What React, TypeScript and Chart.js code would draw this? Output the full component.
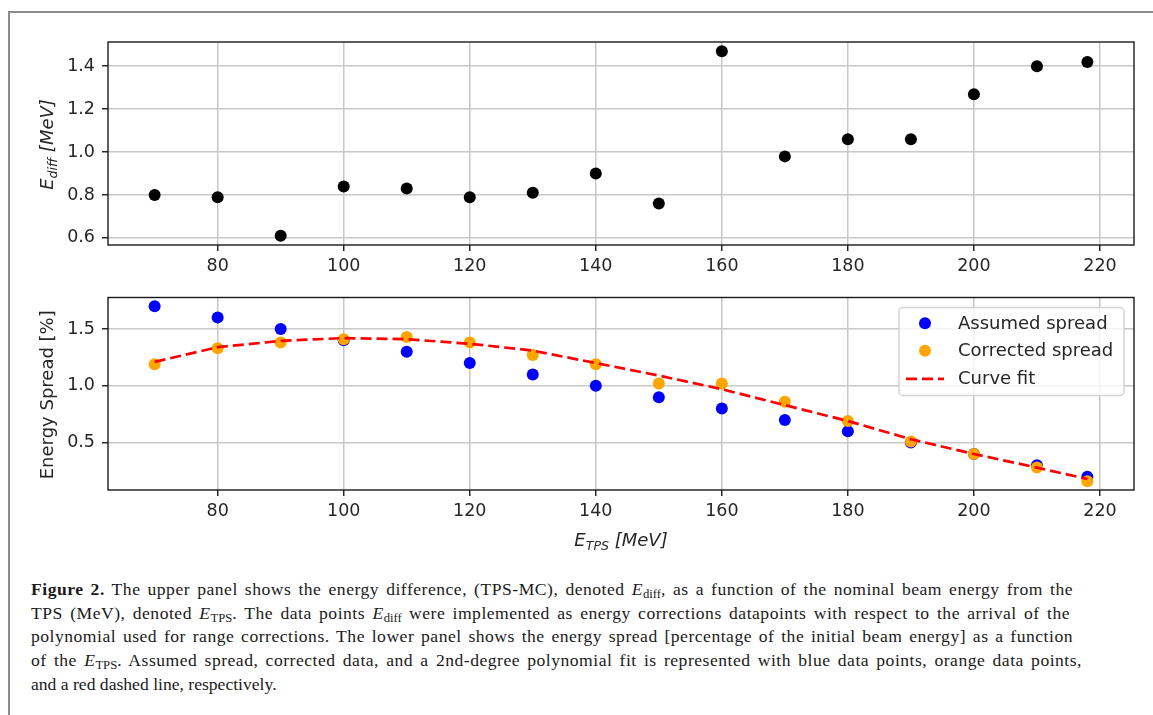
import { useEffect, useRef } from "react";
import { Chart, registerables } from "chart.js";

Chart.register(...registerables);

// Nominal beam energies from the TPS (MeV)
const beamEnergy = [70, 80, 90, 100, 110, 120, 130, 140, 150, 160, 170, 180, 190, 200, 210, 218];
// Energy difference TPS - MC (MeV)
const energyDiff = [0.80, 0.79, 0.61, 0.84, 0.83, 0.79, 0.81, 0.90, 0.76, 1.47, 0.98, 1.06, 1.06, 1.27, 1.40, 1.42];
// Energy spread (% of initial beam energy)
const assumedSpread = [1.7, 1.6, 1.5, 1.4, 1.3, 1.2, 1.1, 1.0, 0.9, 0.8, 0.7, 0.6, 0.5, 0.4, 0.3, 0.2];
const correctedSpread = [1.19, 1.33, 1.38, 1.41, 1.43, 1.38, 1.27, 1.19, 1.02, 1.02, 0.86, 0.69, 0.51, 0.40, 0.28, 0.16];
const curveFit = [1.21, 1.34, 1.395, 1.42, 1.41, 1.37, 1.31, 1.20, 1.09, 0.97, 0.83, 0.69, 0.53, 0.40, 0.28, 0.18];

const energyTicks = [80, 100, 120, 140, 160, 180, 200, 220];
const diffTicks = [0.6, 0.8, 1.0, 1.2, 1.4];
const spreadTicks = [0.5, 1.0, 1.5];
const seriesLabels = ["Assumed spread", "Corrected spread", "Curve fit"];

const FONT = '"DejaVu Sans", sans-serif';
const TEXT = "#262626";
const GRID = "#c8c8c8";
const SPINE = "#1a1a1a";
const BLUE = "#0000ff";
const ORANGE = "#ffa500";
const RED = "#ff0000";
const FIT_DASH = [11, 5];

// matplotlib-style auto limits: data range plus 5% on each side
function paddedRange(values: number[], frac = 0.05) {
  const lo = Math.min(...values);
  const hi = Math.max(...values);
  const pad = (hi - lo) * frac;
  return { min: lo - pad, max: hi + pad };
}

type Seg = { text: string; sub?: boolean; italic?: boolean };

// Draws a mathtext-like label (italic symbol with subscript), centred on (cx, cy)
function drawMathLabel(ctx: CanvasRenderingContext2D, segs: Seg[], cx: number, cy: number, size: number, vertical: boolean) {
  ctx.save();
  ctx.translate(cx, cy);
  if (vertical) ctx.rotate(-Math.PI / 2);
  ctx.fillStyle = TEXT;
  ctx.textBaseline = "alphabetic";
  ctx.textAlign = "left";
  const fontOf = (s: Seg) => `${s.italic ? "italic " : ""}${s.sub ? size * 0.7 : size}px ${FONT}`;
  let total = 0;
  const widths = segs.map((s) => {
    ctx.font = fontOf(s);
    const w = ctx.measureText(s.text).width;
    total += w;
    return w;
  });
  let x = -total / 2;
  const base = size * 0.36;
  segs.forEach((s, i) => {
    ctx.font = fontOf(s);
    ctx.fillText(s.text, x, s.sub ? base + size * 0.2 : base);
    x += widths[i];
  });
  ctx.restore();
}

function frameBox(ctx: CanvasRenderingContext2D, chart: Chart) {
  const a = chart.chartArea;
  ctx.save();
  ctx.strokeStyle = SPINE;
  ctx.lineWidth = 1.4;
  ctx.strokeRect(a.left, a.top, a.right - a.left, a.bottom - a.top);
  ctx.restore();
}

function xScale(min: number, max: number, height: number) {
  return {
    type: "linear" as const,
    position: "bottom" as const,
    min,
    max,
    afterBuildTicks: (s: any) => {
      s.ticks = energyTicks.map((v) => ({ value: v }));
    },
    afterFit: (s: any) => {
      s.height = height;
    },
    ticks: {
      font: { family: FONT, size: 17.5 },
      color: TEXT,
      padding: 5,
      maxRotation: 0,
      autoSkip: false,
      callback: (v: any) => String(v),
    },
    grid: { color: GRID, lineWidth: 1.5, tickColor: SPINE, tickWidth: 1.4, tickLength: 6 },
    border: { display: false },
  };
}

function yScale(min: number, max: number, ticksList: number[]) {
  return {
    type: "linear" as const,
    position: "left" as const,
    min,
    max,
    afterBuildTicks: (s: any) => {
      s.ticks = ticksList.map((v) => ({ value: v }));
    },
    afterFit: (s: any) => {
      s.width = 108;
    },
    ticks: {
      font: { family: FONT, size: 17.5 },
      color: TEXT,
      padding: 7,
      autoSkip: false,
      callback: (v: any) => Number(v).toFixed(1),
    },
    grid: { color: GRID, lineWidth: 1.5, tickColor: SPINE, tickWidth: 1.4, tickLength: 6 },
    border: { display: false },
  };
}

const pointsOf = (ys: number[]) => beamEnergy.map((x, i) => ({ x, y: ys[i] }));

export default function App() {
  const topRef = useRef<HTMLCanvasElement>(null);
  const bottomRef = useRef<HTMLCanvasElement>(null);

  useEffect(() => {
    const xr = paddedRange(beamEnergy);
    const diffRange = paddedRange(energyDiff);
    const spreadRange = paddedRange([...assumedSpread, ...correctedSpread, ...curveFit]);

    const topDecor = {
      id: "topDecor",
      afterDraw(chart: Chart) {
        const ctx = chart.ctx;
        frameBox(ctx, chart);
        const a = chart.chartArea;
        drawMathLabel(
          ctx,
          [
            { text: "E", italic: true },
            { text: "diff", italic: true, sub: true },
            { text: " [MeV]", italic: true },
          ],
          46.5,
          (a.top + a.bottom) / 2 + 1,
          18,
          true
        );
      },
    };

    const bottomDecor = {
      id: "bottomDecor",
      afterDraw(chart: Chart) {
        const ctx = chart.ctx;
        frameBox(ctx, chart);
        const a = chart.chartArea;
        drawMathLabel(ctx, [{ text: "Energy Spread [%]" }], 46.5, (a.top + a.bottom) / 2 + 1, 18, true);
        drawMathLabel(
          ctx,
          [
            { text: "E", italic: true },
            { text: "TPS", italic: true, sub: true },
            { text: " [MeV]", italic: true },
          ],
          (a.left + a.right) / 2,
          260,
          18,
          false
        );

        // legend in the upper right corner of the plot area
        const bw = 225;
        const bh = 88;
        const bx = a.right - 10 - bw;
        const by = a.top + 10;
        ctx.save();
        ctx.beginPath();
        ctx.roundRect(bx, by, bw, bh, 4);
        ctx.fillStyle = "rgba(255,255,255,0.8)";
        ctx.fill();
        ctx.strokeStyle = "#d4d4d4";
        ctx.lineWidth = 1.5;
        ctx.stroke();
        const rows = [by + 15.7, by + 43.3, by + 71.3];
        const mx = bx + 26;
        ctx.fillStyle = BLUE;
        ctx.beginPath();
        ctx.arc(mx, rows[0], 6, 0, Math.PI * 2);
        ctx.fill();
        ctx.fillStyle = ORANGE;
        ctx.beginPath();
        ctx.arc(mx, rows[1], 6, 0, Math.PI * 2);
        ctx.fill();
        ctx.strokeStyle = RED;
        ctx.lineWidth = 2.7;
        ctx.setLineDash(FIT_DASH);
        ctx.beginPath();
        ctx.moveTo(bx + 7, rows[2]);
        ctx.lineTo(bx + 45, rows[2]);
        ctx.stroke();
        ctx.setLineDash([]);
        ctx.fillStyle = TEXT;
        ctx.font = `18px ${FONT}`;
        ctx.textBaseline = "middle";
        ctx.textAlign = "left";
        seriesLabels.forEach((t, i) => ctx.fillText(t, bx + 59, rows[i] + 1));
        ctx.restore();
      },
    };

    const common = {
      responsive: false,
      animation: false as const,
      devicePixelRatio: 1,
      events: [] as any[],
      plugins: { legend: { display: false }, tooltip: { enabled: false } },
    };

    const top = new Chart(topRef.current!, {
      type: "scatter",
      data: {
        datasets: [
          {
            data: pointsOf(energyDiff),
            pointRadius: 6,
            pointBackgroundColor: "#000",
            pointBorderWidth: 0,
            borderColor: "#000",
          },
        ],
      },
      options: {
        ...common,
        layout: { padding: { left: 0, top: 42, right: 19, bottom: 0 } },
        scales: {
          x: xScale(xr.min, xr.max, 35),
          y: yScale(diffRange.min, diffRange.max, diffTicks),
        },
      },
      plugins: [topDecor],
    } as any);

    const bottom = new Chart(bottomRef.current!, {
      type: "scatter",
      data: {
        datasets: [
          {
            label: seriesLabels[0],
            data: pointsOf(assumedSpread),
            pointRadius: 6,
            pointBackgroundColor: BLUE,
            pointBorderWidth: 0,
            borderColor: BLUE,
            order: 3,
          },
          {
            label: seriesLabels[1],
            data: pointsOf(correctedSpread),
            pointRadius: 6,
            pointBackgroundColor: ORANGE,
            pointBorderWidth: 0,
            borderColor: ORANGE,
            order: 2,
          },
          {
            label: seriesLabels[2],
            data: pointsOf(curveFit),
            showLine: true,
            pointRadius: 0,
            borderColor: RED,
            borderWidth: 2.7,
            borderDash: FIT_DASH,
            fill: false,
            tension: 0,
            order: 1,
          },
        ],
      },
      options: {
        ...common,
        layout: { padding: { left: 0, top: 6, right: 19, bottom: 0 } },
        scales: {
          x: xScale(xr.min, xr.max, 80),
          y: yScale(spreadRange.min, spreadRange.max, spreadTicks),
        },
      },
      plugins: [bottomDecor],
    } as any);

    return () => {
      top.destroy();
      bottom.destroy();
    };
  }, []);

  const sub = { fontSize: "0.72em", verticalAlign: "-0.25em", lineHeight: 0, letterSpacing: 0 } as const;
  const line = (w: number) =>
    ({
      width: w,
      height: 23.7,
      lineHeight: "23.7px",
      letterSpacing: "0.5px",
      textAlign: "justify",
      textAlignLast: "justify",
    } as const);

  return (
    <div style={{ position: "fixed", left: 0, top: 0, width: 1153, height: 715, background: "#fff", overflow: "hidden" }}>
      <div
        style={{
          position: "absolute",
          left: 8,
          top: 11,
          right: -10,
          bottom: -10,
          borderTop: "2px solid #8c8c8c",
          borderLeft: "2px solid #8c8c8c",
        }}
      />
      <canvas ref={topRef} width={1153} height={280} style={{ position: "absolute", left: 0, top: 0 }} />
      <canvas ref={bottomRef} width={1153} height={290} style={{ position: "absolute", left: 0, top: 280 }} />
      <div
        style={{
          position: "absolute",
          left: 31,
          top: 578,
          fontFamily: '"Liberation Serif", serif',
          fontSize: 17.6,
          color: "#1a1a1a",
        }}
      >
        <div style={line(1042)}>
          <b>Figure 2.</b> The upper panel shows the energy difference, (TPS-MC), denoted <i>E</i>
          <sub style={sub}>diff</sub>, as a function of the nominal beam energy from the
        </div>
        <div style={line(1039)}>
          TPS (MeV), denoted <i>E</i>
          <sub style={sub}>TPS</sub>. The data points <i>E</i>
          <sub style={sub}>diff</sub> were implemented as energy corrections datapoints with respect to the arrival of the
        </div>
        <div style={line(1042)}>
          polynomial used for range corrections. The lower panel shows the energy spread [percentage of the initial beam
          energy] as a function
        </div>
        <div style={line(1051)}>
          of the <i>E</i>
          <sub style={sub}>TPS</sub>. Assumed spread, corrected data, and a 2nd-degree polynomial fit is represented with
          blue data points, orange data points,
        </div>
        <div style={{ height: 23.7, lineHeight: "23.7px" }}>and a red dashed line, respectively.</div>
      </div>
    </div>
  );
}
